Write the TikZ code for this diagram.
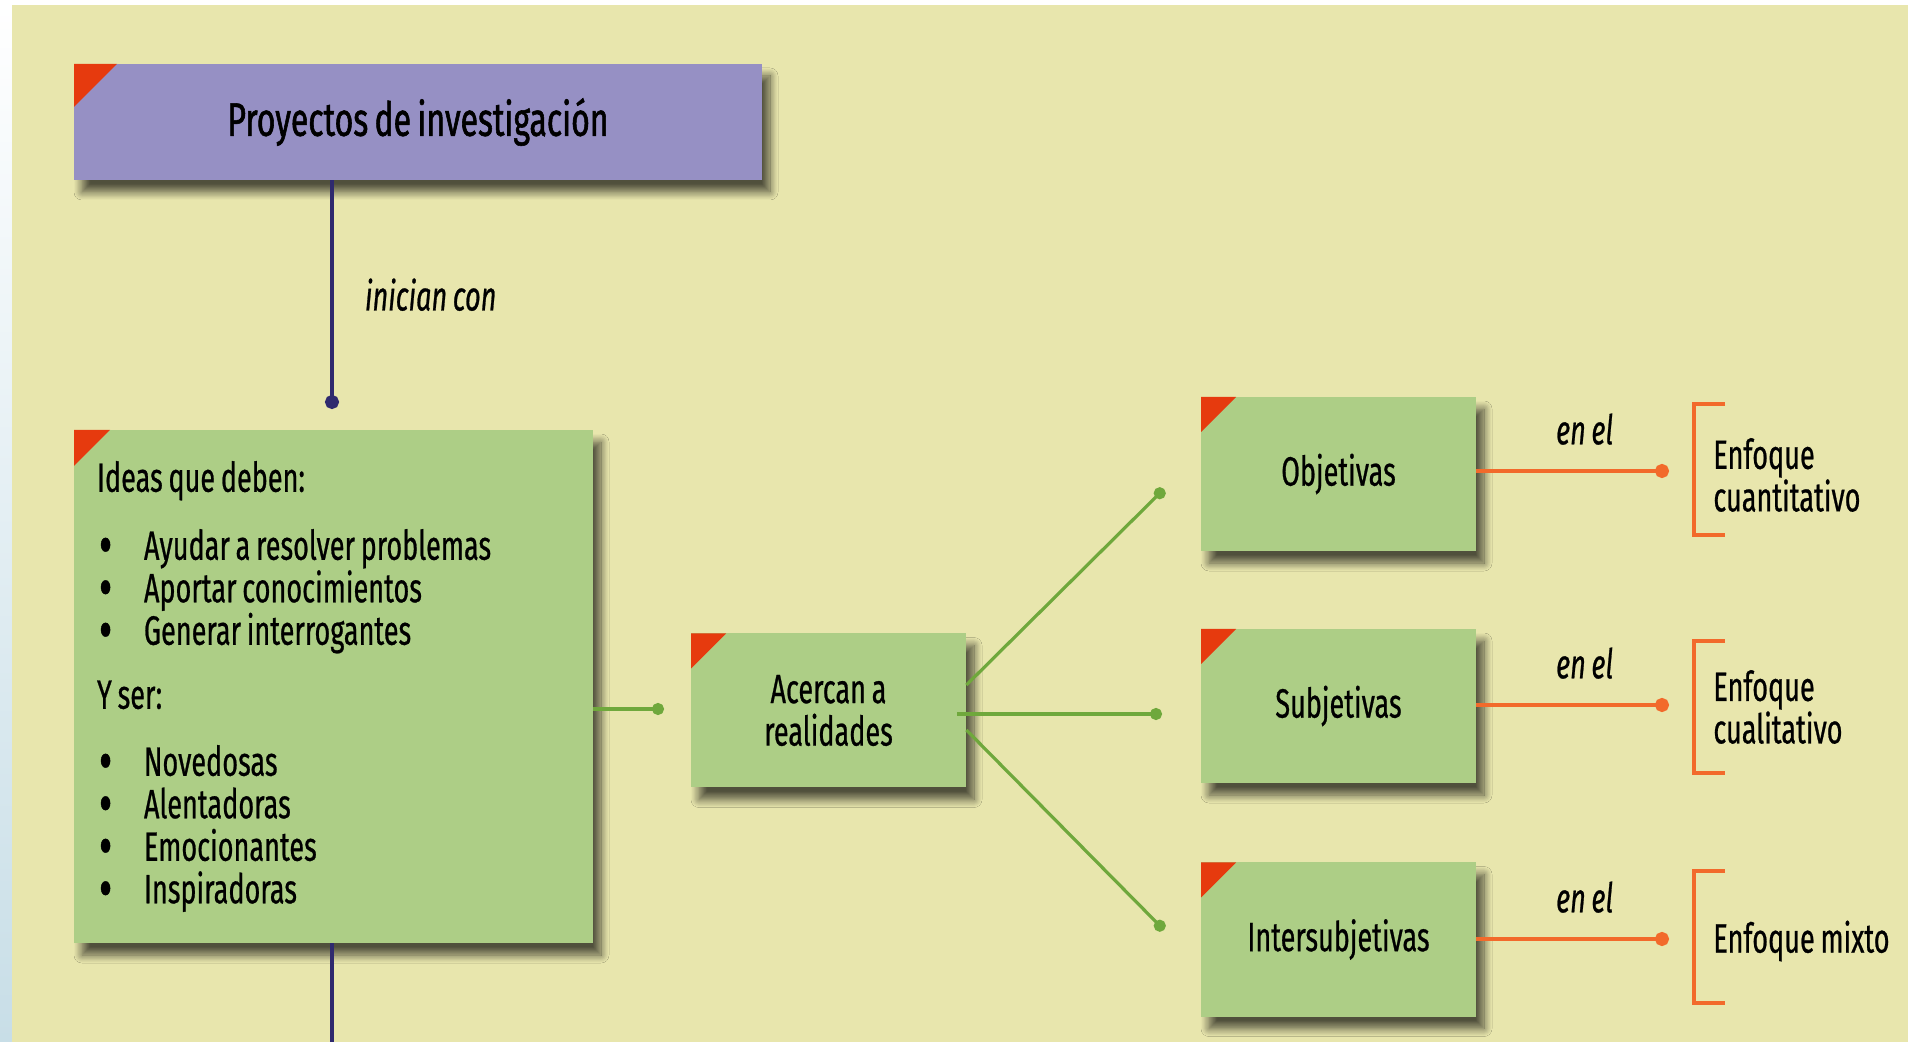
\documentclass[tikz,border=0pt]{standalone}
\usepackage{fontspec}
\setmainfont[FakeStretch=0.66, FakeBold=0.6, WordSpace=0.8]{Fira Sans}
\usetikzlibrary{positioning,shadows,shadows.blur,arrows.meta,calc}
\definecolor{bgbeige}{HTML}{E8E6AD}
\definecolor{boxgreen}{HTML}{ADCE86}
\definecolor{boxpurple}{HTML}{9690C4}
\definecolor{cornerred}{HTML}{E63A0E}
\definecolor{shadowc}{HTML}{4A4935}
\definecolor{linepurple}{HTML}{2F2A6E}
\definecolor{linegreen}{HTML}{6FA83C}
\definecolor{lineorange}{HTML}{F26A2B}
\definecolor{stripblue}{HTML}{C8DEE7}
\newcommand{\bul}{\makebox[23.5pt][l]{\hspace{1pt}\raisebox{-3pt}{\scalebox{1.5}{\textbullet}}}}
\tikzset{
  boxshadow/.style={
    blur shadow={shadow xshift=4pt, shadow yshift=-6pt, shadow blur steps=10,
      shadow blur radius=4pt, shadow opacity=65, shadow blur extra rounding=0pt}},
  corner/.style={path picture={\fill[cornerred] (path picture bounding box.north west)
    -- ++(#1,0) -- ++(-#1,-#1) -- cycle;}}
}
\begin{document}
\begin{tikzpicture}[x=0.5pt, y=-0.5pt,
    every node/.style={font=\fontsize{20.5}{21.25}\selectfont},
    box/.style={fill=boxgreen, minimum width=137.5pt, minimum height=77pt,
      align=center, inner sep=0pt, boxshadow, corner=17.5pt},
    lbl/.style={font=\fontsize{20.5}{21.25}\selectfont\itshape, inner sep=0pt},
    pline/.style={draw=linepurple, line width=2pt, -{Circle[length=7pt]}},
    gline/.style={draw=linegreen, line width=1.6pt, -{Circle[length=6pt]}},
    oline/.style={draw=lineorange, line width=2.2pt, -{Circle[length=7pt]}},
    bracket/.style={draw=lineorange, line width=1.6pt}]
  \useasboundingbox (0,0) rectangle (1908,1042);
  % background
  \fill[white] (0,0) rectangle (1908,1042);
  \shade[top color=white, bottom color=stripblue] (0,0) rectangle (12,1042);
  \fill[bgbeige] (12,5) rectangle (1908,1042);
  % boxes
  \node [box, fill=boxpurple, minimum width=344pt, minimum height=58pt, corner=21.5pt]
    (proy) at (418,122) {\fontspec[FakeStretch=0.68, FakeBold=1.2, WordSpace=0.75]{Fira Sans}%
    \fontsize{23.5}{24}\selectfont Proyectos de investigación};
  \node [box, minimum width=259.5pt, minimum height=256.5pt, align=flush left,
    text width=236.5pt, inner xsep=11.5pt, corner=18pt] (ideas) at (333.5,686.5)
    {Ideas que deben:\\[12.75pt]
     \bul Ayudar a resolver problemas\\
     \bul Aportar conocimientos\\
     \bul Generar interrogantes\\[10.75pt]
     Y ser:\\[12.25pt]
     \bul Novedosas\\
     \bul Alentadoras\\
     \bul Emocionantes\\
     \bul Inspiradoras};
  \node [box] (acerc) at (828.5,710.5) {Acercan a\\realidades};
  \node [box] (obj) at (1338.5,474) {Objetivas};
  \node [box] (subj) at (1338.5,706) {Subjetivas};
  \node [box] (inter) at (1338.5,939.5) {Intersubjetivas};
  % right column
  \node [anchor=west, align=left, inner sep=0pt] (cuanti) at (1713,475) {Enfoque\\cuantitativo};
  \node [anchor=west, align=left, inner sep=0pt] (cuali) at (1713,707) {Enfoque\\cualitativo};
  \node [anchor=west, align=left, inner sep=0pt] (mixto) at (1713,941) {Enfoque mixto};
  \draw [bracket] (1725,404) -- (1694,404) -- (1694,535) -- (1725,535);
  \draw [bracket] (1725,641) -- (1694,641) -- (1694,773) -- (1725,773);
  \draw [bracket] (1725,871) -- (1694,871) -- (1694,1003) -- (1725,1003);
  % links
  \coordinate (d1) at (332,409);
  \coordinate (bot) at (332,1042);
  \coordinate (g0) at (664,709);
  \coordinate (g1) at (1164,489);
  \coordinate (g2) at (1162,714);
  \coordinate (g3) at (1164,930);
  \coordinate (o1) at (1669,471);
  \coordinate (o2) at (1669,705);
  \coordinate (o3) at (1669,939);
  \path [pline] (proy.south -| d1) -- node [lbl, right=15.5pt] {inician con} (d1);
  \draw [draw=linepurple, line width=2pt] (ideas.south -| bot) -- (bot);
  \path [gline] (ideas.east |- g0) -- (g0);
  \path [gline] ([yshift=12.75pt]acerc.east) -- (g1);
  \path [gline] ([xshift=-4.5pt, yshift=-1.75pt]acerc.east) -- (g2);
  \path [gline] ([yshift=-9.75pt]acerc.east) -- (g3);
  \path [oline] (obj.east |- o1) -- node [lbl, above=12pt, xshift=6pt] {en el} (o1);
  \path [oline] (subj.east |- o2) -- node [lbl, above=12pt, xshift=6pt] {en el} (o2);
  \path [oline] (inter.east |- o3) -- node [lbl, above=12pt, xshift=6pt] {en el} (o3);
\end{tikzpicture}
\end{document}
